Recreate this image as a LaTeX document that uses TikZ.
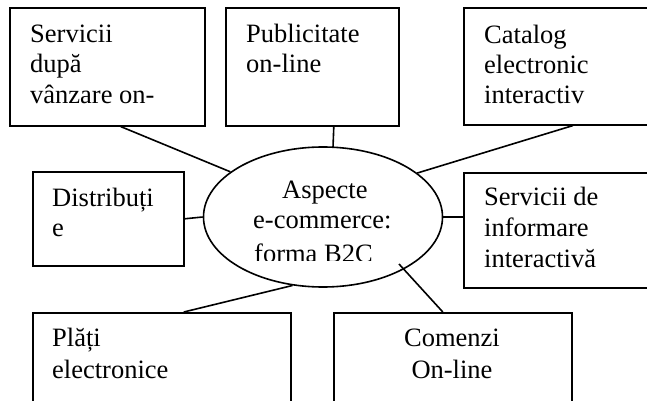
\documentclass[tikz,border=0pt]{standalone}
\usepackage{fontspec}
\setmainfont{Liberation Serif}
\usetikzlibrary{shapes.geometric}

\begin{document}
\begin{tikzpicture}[x=1pt,y=-1pt,
  box/.style={draw, line width=1.6pt, rectangle, inner sep=0pt, anchor=north west},
  oval/.style={draw, line width=1.6pt, ellipse, inner sep=0pt},
  txt/.style={anchor=base west, inner sep=0pt, font=\fontsize{26.5}{30}\selectfont},
  link/.style={line width=1.6pt}]
\useasboundingbox (0,0) rectangle (647,401);
\clip (0,0) rectangle (647,401);

% central ellipse
\node[oval, minimum width=239pt, minimum height=140pt] (el) at (323,217) {};

% surrounding boxes
\node[box, minimum width=195pt, minimum height=118pt] (b1) at (9,7) {};
\node[box, minimum width=173pt, minimum height=118pt] (b2) at (225,7) {};
\node[box, minimum width=220pt, minimum height=117pt] (b3) at (463,7) {};
\node[box, minimum width=151pt, minimum height=94pt]  (b4) at (32,171) {};
\node[box, minimum width=220pt, minimum height=115pt] (b5) at (463,172) {};
\node[box, minimum width=258pt, minimum height=120pt] (b6) at (32,312) {};
\node[box, minimum width=238pt, minimum height=120pt] (b7) at (333,312) {};

% box texts
\node[txt] (t1a) at (30,43) {Servicii};
\node[txt] (t1b) at (30,73) {după};
\node[txt] (t1c) at (30,103) {vânzare on-};

\node[txt] (t2a) at (246,43) {Publicitate};
\node[txt] (t2b) at (246,73) {on-line};

\node[txt] (t3a) at (484,44) {Catalog};
\node[txt] (t3b) at (484,74) {electronic};
\node[txt] (t3c) at (484,103) {interactiv};

\node[txt] (t4a) at (52,206) {Distribuți};
\node[txt] (t4b) at (52,236) {e};

\node[txt] (t5a) at (484,205) {Servicii de};
\node[txt] (t5b) at (484,236) {informare};
\node[txt] (t5c) at (484,267) {interactivă};

\node[txt] (t6a) at (52,346) {Plăți};
\node[txt] (t6b) at (52,378) {electronice};

\node[txt, anchor=base] (t7a) at (452,346) {Comenzi};
\node[txt, anchor=base] (t7b) at (452,378) {On-line};

% ellipse text, cut off at the bottom of its frame
\begin{scope}
  \clip (200,150) rectangle (450,260.5);
  \node[txt] (e1) at (282,198) {Aspecte};
  \node[txt] (e2) at (253,228) {e-commerce:};
  \node[txt] (e3) at (254,262) {forma B2C};
\end{scope}

% connectors
\coordinate (k) at ([shift={(76,47)}]el.center);
\draw[link] ([xshift=13.5pt]b1.south) -- (el.154);
\draw[link] ([xshift=21.5pt]b2.south) -- ([xshift=10pt,yshift=-1pt]el.north);
\draw[link] ([xshift=-1pt]b3.south) -- (el.25);
\draw[link] (b4.east) -- (el.west);
\draw[link] (el.east) -- (el.east -| b5.west);
\draw[link] ([xshift=22pt]b6.north) -- (el.246);
\draw[link] (k) -- ([xshift=-10pt]b7.north);
\end{tikzpicture}
\end{document}
